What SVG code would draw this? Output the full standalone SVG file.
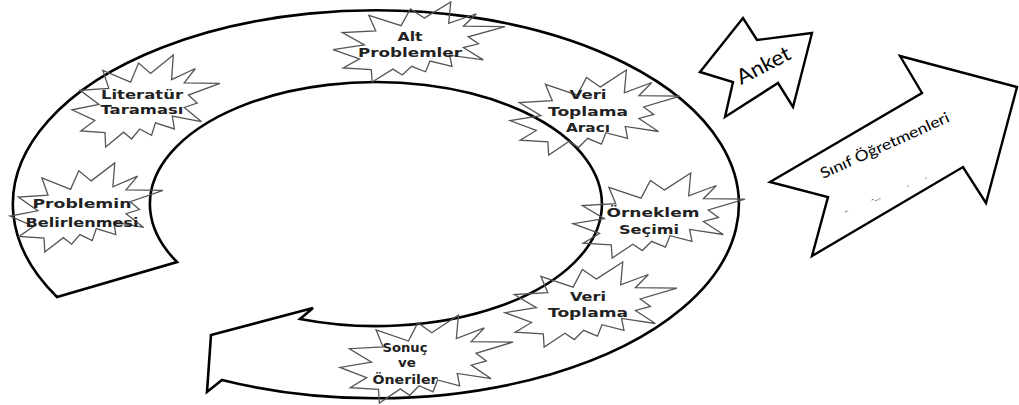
<svg xmlns="http://www.w3.org/2000/svg" xmlns:xlink="http://www.w3.org/1999/xlink" width="1019" height="405" viewBox="0 0 1019 405">
<style>
.ring{fill:#fff;stroke:#000;stroke-width:2.6;stroke-linejoin:miter}
.star{fill:none;stroke:#555;stroke-width:1.3;vector-effect:non-scaling-stroke;stroke-linejoin:miter}
.lbl{font-family:"DejaVu Sans",Verdana,sans-serif;font-weight:bold;font-size:12px;fill:#222;text-anchor:middle}
.arrow{fill:#fff;stroke:#000;stroke-width:2.4;stroke-linejoin:miter}
.atxt{font-family:Lato,"Open Sans",sans-serif;fill:#000}
.mark{font-family:Lato,sans-serif;font-size:9px;fill:#333}
</style>
<defs>
<polygon id="star" class="star" points="53.06,20.10 68.47,0 67.25,26.75 83.37,14.69 75.83,30.24 100,30.76 78.63,43.53 84.58,52.27 75.83,56.99 87.39,72.37 67.78,66.44 69.18,80.42 56.39,73.77 53.76,87.23 45.70,80.42 40.28,91.26 34.85,83.91 22.76,100 22.25,84.44 5.95,82.52 15.42,71.16 0,59.62 18.22,53.67 5.43,38.29 24.87,36.19 20.84,16.78 39.58,29.55 45.01,8.74"/>
</defs>
<rect width="1019" height="405" fill="#fff"/>
<g id="connectors">
<path id="cycle-arrow" class="ring" d="M57,297 A363,194 0 1 1 222,380 L207,392 L211,335 L313,308 L300,319 A226,122 0 1 0 177,262 Z"/>
</g>
<g id="node-problemin">
<use xlink:href="#star" href="#star" transform="translate(10,163) scale(1.53,0.89)"/>
<text class="lbl" style="font-size:13px" x="82" y="208" textLength="99" lengthAdjust="spacingAndGlyphs">Problemin</text>
<text class="lbl" style="font-size:13px" x="82" y="227" textLength="113" lengthAdjust="spacingAndGlyphs">Belirlenmesi</text>
</g>
<g id="node-literatur">
<use xlink:href="#star" href="#star" transform="translate(72,55) scale(1.48,0.92)"/>
<text class="lbl" x="142" y="99" textLength="82" lengthAdjust="spacingAndGlyphs">Literatür</text>
<text class="lbl" x="142" y="114" textLength="83" lengthAdjust="spacingAndGlyphs">Taraması</text>
</g>
<g id="node-alt-problemler">
<use xlink:href="#star" href="#star" transform="translate(333,2) scale(1.72,0.80)"/>
<text class="lbl" x="410" y="41" textLength="25" lengthAdjust="spacingAndGlyphs">Alt</text>
<text class="lbl" x="410" y="57" textLength="104" lengthAdjust="spacingAndGlyphs">Problemler</text>
</g>
<g id="node-veri-toplama-araci">
<use xlink:href="#star" href="#star" transform="translate(510,70) scale(1.70,0.85)"/>
<text class="lbl" x="588" y="99" textLength="37" lengthAdjust="spacingAndGlyphs">Veri</text>
<text class="lbl" x="588" y="116" textLength="80" lengthAdjust="spacingAndGlyphs">Toplama</text>
<text class="lbl" x="588" y="132" textLength="44" lengthAdjust="spacingAndGlyphs">Aracı</text>
</g>
<g id="node-orneklem">
<use xlink:href="#star" href="#star" transform="translate(573,173) scale(1.72,0.85)"/>
<text class="lbl" x="653" y="217" textLength="93" lengthAdjust="spacingAndGlyphs">Örneklem</text>
<text class="lbl" x="649" y="234" textLength="60" lengthAdjust="spacingAndGlyphs">Seçimi</text>
</g>
<g id="node-veri-toplama">
<use xlink:href="#star" href="#star" transform="translate(505,262) scale(1.72,0.85)"/>
<text class="lbl" x="588" y="301" textLength="36" lengthAdjust="spacingAndGlyphs">Veri</text>
<text class="lbl" x="588" y="317" textLength="80" lengthAdjust="spacingAndGlyphs">Toplama</text>
</g>
<g id="node-sonuc">
<use xlink:href="#star" href="#star" transform="translate(340,315) scale(1.73,0.88)"/>
<text class="lbl" x="405" y="352" textLength="45" lengthAdjust="spacingAndGlyphs">Sonuç</text>
<text class="lbl" x="407" y="367" textLength="18" lengthAdjust="spacingAndGlyphs">ve</text>
<text class="lbl" x="405" y="384" textLength="65" lengthAdjust="spacingAndGlyphs">Öneriler</text>
</g>
<g id="node-anket">
<polygon class="arrow" points="700,72 743,18 757,40 812,33 793,107 778,83 725,117 733,82"/>
<text class="atxt" font-size="21" transform="translate(741,85) rotate(-27.4)" textLength="58" lengthAdjust="spacingAndGlyphs">Anket</text>
</g>
<g id="node-sinif-ogretmenleri">
<polygon class="arrow" points="770,182 922,93 900,56 1017,87 986,203 963,167 812,256 828,197"/>
<text class="atxt" font-size="15" transform="translate(823,179) rotate(-24.4)" textLength="140" lengthAdjust="spacingAndGlyphs">Sınıf Öğretmenleri</text>
<text class="mark" transform="translate(845,215) rotate(-24.4)">–</text>
<text class="mark" transform="translate(872,203) rotate(-24.4)">-...</text>
<text class="mark" transform="translate(907,187) rotate(-24.4)">.</text>
<text class="mark" transform="translate(925,179) rotate(-24.4)">.</text>
</g>
</svg>
